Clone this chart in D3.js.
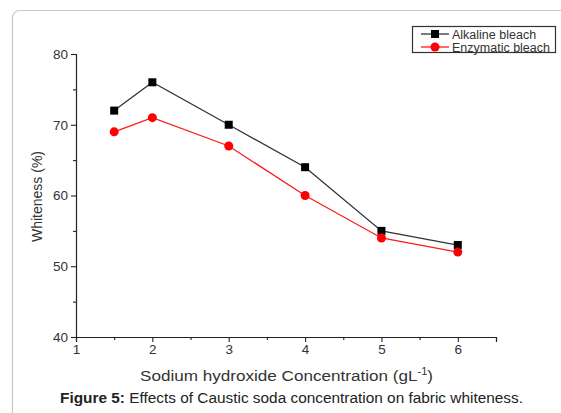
<!DOCTYPE html>
<html><head><meta charset="utf-8">
<script src="https://cdn.jsdelivr.net/npm/d3@7"></script>
<style>body{margin:0;background:#fff;}svg{display:block;font-family:"Liberation Sans",Arial,sans-serif;}</style>
</head><body>
<svg id="c" width="561" height="413"></svg>
<script>
const concentration = [1.5, 2, 3, 4, 5, 6];
const alkaline = [72, 76, 70, 64, 55, 53];
const enzymatic = [69, 71, 67, 60, 54, 52];
const seriesNames = ["Alkaline bleach", "Enzymatic bleach"];
const xTicks = [1, 2, 3, 4, 5, 6];
const yTicks = [40, 50, 60, 70, 80];

const svg = d3.select("#c");
svg.append("rect").attr("x",12.5).attr("y",10.5).attr("width",600).attr("height",450)
  .attr("rx",7).attr("fill","#fff").attr("stroke","#c8c8c8").attr("stroke-width",1.2);

const x = d3.scaleLinear().domain([1,6.5]).range([76,496]);
const y = d3.scaleLinear().domain([40,80]).range([337,54]);

const gx = svg.append("g").attr("transform",`translate(0,${y(40)})`)
  .call(d3.axisBottom(x).tickValues(xTicks).tickFormat(d3.format("d")).tickSize(5).tickPadding(2));
const gxm = svg.append("g").attr("transform",`translate(0,${y(40)})`)
  .call(d3.axisBottom(x).tickValues([1.5,2.5,3.5,4.5,5.5,6.5]).tickFormat("").tickSize(3));
gxm.select(".domain").remove();
const gy = svg.append("g").attr("transform",`translate(${x(1)},0)`)
  .call(d3.axisLeft(y).tickValues(yTicks).tickSize(5).tickPadding(3));
const gym = svg.append("g").attr("transform",`translate(${x(1)},0)`)
  .call(d3.axisLeft(y).tickValues([45,55,65,75]).tickFormat("").tickSize(3));
gym.select(".domain").remove();
svg.selectAll(".domain").attr("stroke","#222").attr("stroke-width",1.2);
svg.selectAll(".tick line").attr("stroke","#222").attr("stroke-width",1.1);
svg.selectAll(".tick text").attr("fill","#333").attr("font-size",13.5).attr("font-family","Liberation Sans, Arial, sans-serif");

svg.append("text").attr("transform",`translate(42,${(y(40)+y(80))/2 + 1}) rotate(-90)`)
  .attr("text-anchor","middle").attr("font-size",14).attr("fill","#333").text("Whiteness (%)");

const xt = svg.append("text").attr("x",140).attr("y",381)
  .attr("font-size",15.5).attr("fill","#333")
  .attr("textLength",293).attr("lengthAdjust","spacingAndGlyphs");
xt.append("tspan").text("Sodium hydroxide Concentration (gL");
xt.append("tspan").attr("dy",-6).attr("font-size",10).text("-1");
xt.append("tspan").attr("dy",6).text(")");

const cap = svg.append("text").attr("x",60).attr("y",403).attr("font-size",14).attr("fill","#222")
  .attr("textLength",463).attr("lengthAdjust","spacingAndGlyphs");
cap.append("tspan").attr("font-weight","bold").text("Figure 5:");
cap.append("tspan").text(" Effects of Caustic soda concentration on fabric whiteness.");

const line = d3.line().x(d=>x(d[0])).y(d=>y(d[1]));
const dA = concentration.map((c,i)=>[c,alkaline[i]]);
const dE = concentration.map((c,i)=>[c,enzymatic[i]]);

svg.append("path").datum(dA).attr("d",line).attr("fill","none").attr("stroke","#333").attr("stroke-width",1.3);
svg.append("path").datum(dE).attr("d",line).attr("fill","none").attr("stroke","#ff1a1a").attr("stroke-width",1.3);
svg.selectAll(".sq").data(dA).enter().append("rect")
  .attr("x",d=>x(d[0])-4).attr("y",d=>y(d[1])-4).attr("width",8).attr("height",8).attr("fill","#000");
svg.selectAll(".ci").data(dE).enter().append("circle")
  .attr("cx",d=>x(d[0])).attr("cy",d=>y(d[1])).attr("r",4.5).attr("fill","#ff0000");

// legend
const lg = svg.append("g");
lg.append("rect").attr("x",412.5).attr("y",26.5).attr("width",143).attr("height",26)
  .attr("fill","#fff").attr("stroke","#333").attr("stroke-width",1.2);
const ly = [34, 47];
seriesNames.forEach((n,i)=>{
  const col = i===0 ? "#333" : "#ff1a1a";
  lg.append("line").attr("x1",421).attr("x2",449).attr("y1",ly[i]).attr("y2",ly[i]).attr("stroke",col).attr("stroke-width",1.3);
  if(i===0) lg.append("rect").attr("x",431).attr("y",ly[i]-4).attr("width",8).attr("height",8).attr("fill","#000");
  else lg.append("circle").attr("cx",435).attr("cy",ly[i]).attr("r",4.5).attr("fill","#ff0000");
  lg.append("text").attr("x",452).attr("y",ly[i]+4.5).attr("font-size",12.5).attr("fill","#333").text(n);
});
</script>
</body></html>
